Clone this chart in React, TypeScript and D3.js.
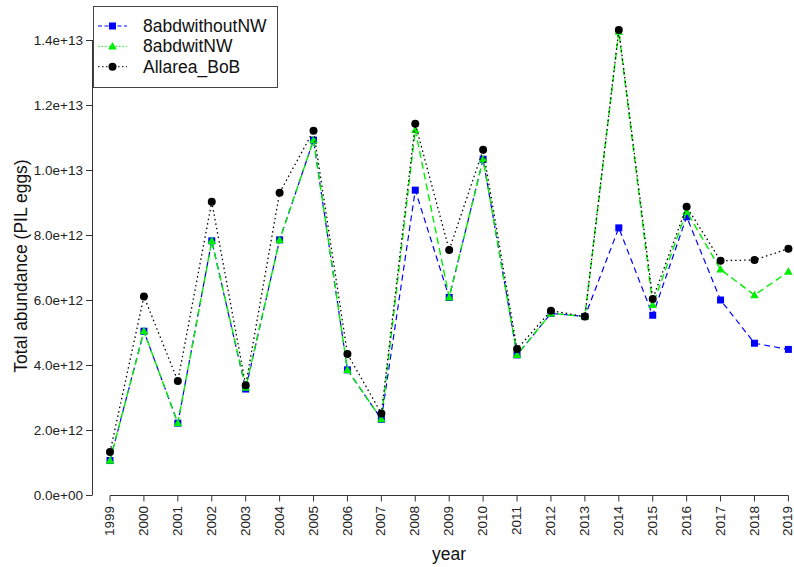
import React from "react";
import * as d3 from "d3";

// Survey years
const years: number[] = [
  1999, 2000, 2001, 2002, 2003, 2004, 2005, 2006, 2007, 2008, 2009,
  2010, 2011, 2012, 2013, 2014, 2015, 2016, 2017, 2018, 2019,
];

// Total abundance of PIL eggs, units of 1e12
const withoutNW: number[] = [
  1.06, 5.04, 2.21, 7.82, 3.26, 7.85, 10.92, 3.85, 2.33, 9.38, 6.08,
  10.33, 4.31, 5.59, 5.49, 8.22, 5.53, 8.56, 6.0, 4.67, 4.48,
];
const witNW: number[] = [
  1.06, 5.04, 2.21, 7.82, 3.3, 7.85, 10.92, 3.85, 2.33, 11.23, 6.08,
  10.33, 4.31, 5.59, 5.49, 14.26, 5.85, 8.72, 6.94, 6.15, 6.87,
];
const allareaBoB: number[] = [
  1.32, 6.11, 3.51, 9.02, 3.38, 9.3, 11.21, 4.34, 2.51, 11.42, 7.54,
  10.62, 4.49, 5.67, 5.49, 14.31, 6.03, 8.87, 7.21, 7.23, 7.58,
];

const yTicks: number[] = [0, 2e12, 4e12, 6e12, 8e12, 1e13, 1.2e13, 1.4e13];
const yTickLabels: string[] = [
  "0.0e+00", "2.0e+12", "4.0e+12", "6.0e+12", "8.0e+12", "1.0e+13", "1.2e+13", "1.4e+13",
];

const seriesNames: string[] = ["8abdwithoutNW", "8abdwitNW", "Allarea_BoB"];

const FONT = "'Liberation Sans', Arial, Helvetica, sans-serif";

type Shape = "square" | "triangle" | "circle";

function Marker({ shape, cx, cy, color }: { shape: Shape; cx: number; cy: number; color: string }) {
  if (shape === "square") {
    return <rect x={cx - 3.5} y={cy - 3.5} width={7} height={7} fill={color} />;
  }
  if (shape === "triangle") {
    const tri = d3.symbol().type(d3.symbolTriangle).size(32)();
    return <path d={tri || ""} transform={`translate(${cx},${cy + 0.6})`} fill={color} />;
  }
  return <circle cx={cx} cy={cy} r={4} fill={color} />;
}

export default function App() {
  const width = 794;
  const height = 567;

  const x = d3.scaleLinear().domain([1999, 2019]).range([110, 788.4]);
  const y = d3.scaleLinear().domain([0, 1.4e13]).range([495, 40]);

  const series = [
    { name: seriesNames[0], values: withoutNW, color: "#0000FF", dash: "6,4", legendDash: "4,2.5", shape: "square" as Shape, width: 1.2 },
    { name: seriesNames[1], values: witNW, color: "#00EE00", dash: "7,4", legendDash: "1.5,2", shape: "triangle" as Shape, width: 1.4 },
    { name: seriesNames[2], values: allareaBoB, color: "#000000", dash: "1.5,3", legendDash: "1.5,2.5", shape: "circle" as Shape, width: 1.3 },
  ];

  const line = d3
    .line<[number, number]>()
    .x((d) => x(d[0]))
    .y((d) => y(d[1] * 1e12));

  const legendX = 93;
  const legendY = 6;
  const legendRowY = [26, 46.3, 66.7];

  return (
    <div style={{ position: "absolute", left: 0, top: 0 }}>
      <svg width={width} height={height} style={{ display: "block", background: "#fff" }} fontFamily={FONT}>
        <rect x={0} y={0} width={width} height={height} fill="#fff" />

        {/* y axis */}
        <line x1={92.5} x2={92.5} y1={y(0)} y2={y(1.4e13)} stroke="#333" strokeWidth={1} />
        {yTicks.map((t, i) => (
          <g key={t}>
            <line x1={86} x2={92.5} y1={y(t) + 0.5} y2={y(t) + 0.5} stroke="#333" strokeWidth={1} />
            <text x={83} y={y(t)} dy="0.35em" textAnchor="end" fontSize={13.5} fill="#222">
              {yTickLabels[i]}
            </text>
          </g>
        ))}

        {/* x axis */}
        <line x1={x(1999)} x2={x(2019)} y1={495.5} y2={495.5} stroke="#333" strokeWidth={1} />
        {years.map((yr) => (
          <g key={yr}>
            <line x1={x(yr)} x2={x(yr)} y1={495.5} y2={501.5} stroke="#333" strokeWidth={1} />
            <text
              transform={`translate(${x(yr)},506) rotate(-90)`}
              textAnchor="end"
              dy="0.3em"
              fontSize={13.5}
              fill="#222"
            >
              {yr}
            </text>
          </g>
        ))}

        {/* axis titles */}
        <text x={449} y={560} textAnchor="middle" fontSize={17.5} fill="#111">
          year
        </text>
        <text transform="translate(27,266) rotate(-90)" textAnchor="middle" fontSize={17.5} fill="#111">
          Total abundance (PIL eggs)
        </text>

        {/* series lines and markers */}
        {series.map((s) => (
          <g key={s.name}>
            <path
              d={line(years.map((yr, i) => [yr, s.values[i]] as [number, number])) || ""}
              fill="none"
              stroke={s.color}
              strokeWidth={s.width}
              strokeDasharray={s.dash}
            />
            {years.map((yr, i) => (
              <Marker key={yr} shape={s.shape} cx={x(yr)} cy={y(s.values[i] * 1e12)} color={s.color} />
            ))}
          </g>
        ))}

        {/* legend */}
        <rect x={legendX + 0.5} y={legendY + 0.5} width={184} height={81} fill="#fff" stroke="#444" strokeWidth={1} />
        {series.map((s, i) => (
          <g key={s.name}>
            <line
              x1={98}
              x2={127}
              y1={legendRowY[i]}
              y2={legendRowY[i]}
              stroke={s.color}
              strokeWidth={1}
              strokeDasharray={s.legendDash}
            />
            <Marker shape={s.shape} cx={112.5} cy={legendRowY[i]} color={s.color} />
            <text x={143} y={legendRowY[i]} dy="0.35em" fontSize={17.5} fill="#111">
              {s.name}
            </text>
          </g>
        ))}
      </svg>
    </div>
  );
}
